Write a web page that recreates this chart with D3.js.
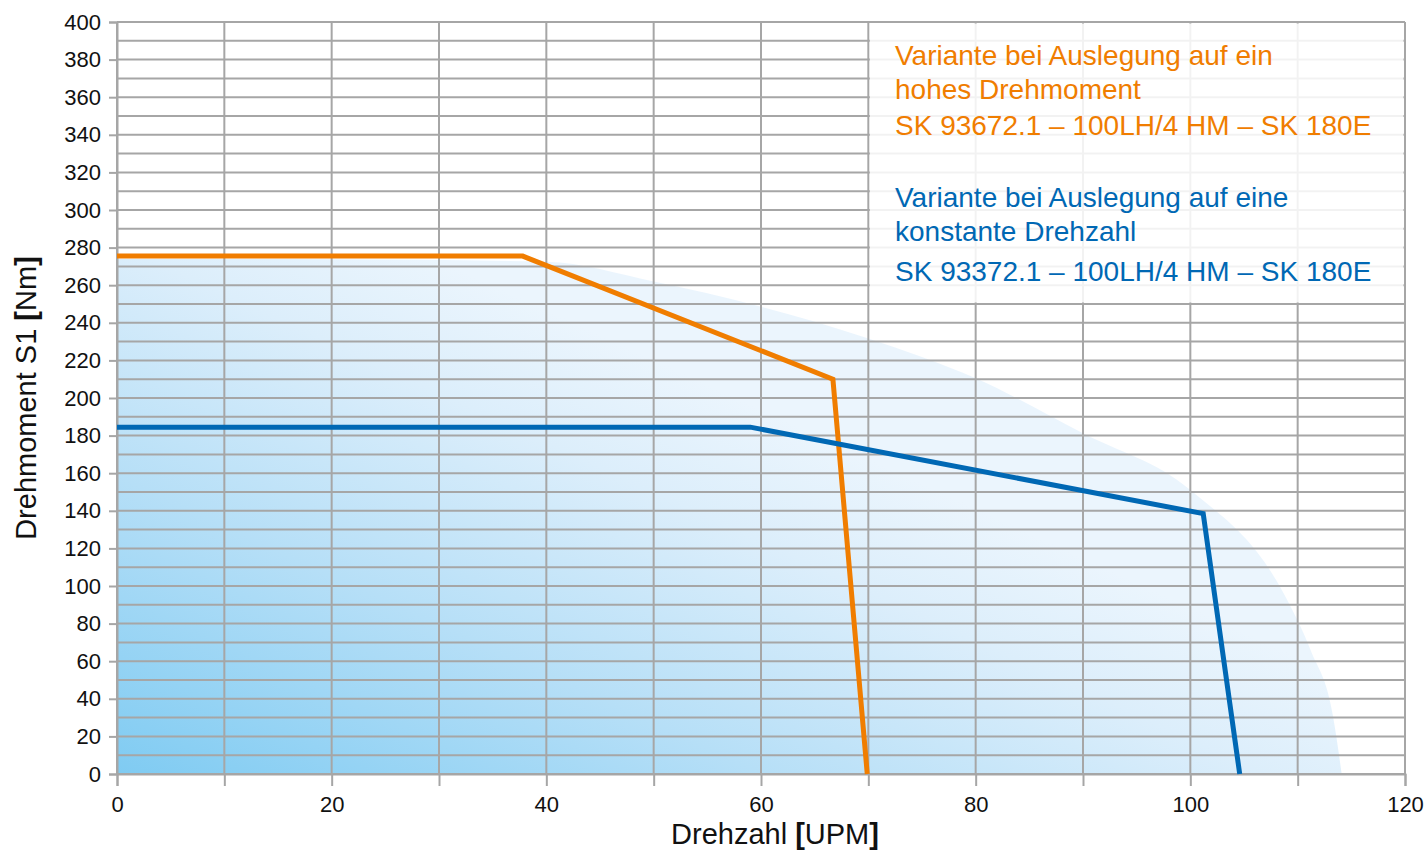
<!DOCTYPE html>
<html><head><meta charset="utf-8">
<script src="https://cdn.jsdelivr.net/npm/d3@7"></script>
<style>
html,body{margin:0;padding:0;background:#fff;}
svg{display:block;font-family:"Liberation Sans",Arial,sans-serif;}
</style></head>
<body>
<svg id="chart" width="1424" height="850"></svg>
<script>
// ---- data ----
const xTicks = [0,20,40,60,80,100,120];
const yTicks = [0,20,40,60,80,100,120,140,160,180,200,220,240,260,280,300,320,340,360,380,400];
const xGrid = d3.range(0,121,10);
const yGrid = d3.range(0,401,10);
// orange: high torque variant
const orangeRpm = [0, 37.8, 66.7, 69.9];
const orangeNm  = [275.5, 275.5, 210, 0];
// blue: constant speed variant
const blueRpm = [0, 59.0, 101.2, 104.6];
const blueNm  = [184.5, 184.5, 138.5, 0];
// background operating envelope boundary
const envRpm = [0, 20, 40, 50, 60, 70, 80, 90, 100, 108.7, 111.2, 113.3, 114.1];
const envNm  = [274, 273.8, 272.5, 262, 248.6, 231.7, 210.5, 181.2, 151, 96, 66, 30.5, 0];
const legendOrange = ["Variante bei Auslegung auf ein","hohes Drehmoment","SK 93672.1 – 100LH/4 HM – SK 180E"];
const legendBlue = ["Variante bei Auslegung auf eine","konstante Drehzahl","SK 93372.1 – 100LH/4 HM – SK 180E"];
const xTitle = ["Drehzahl ","[","UPM","]"];
const yTitle = ["Drehmoment S1 ","[","Nm","]"];

const ORANGE = "#f07d00", BLUE = "#0068b4", GRID = "#a6a6a6";

const svg = d3.select("#chart");
const x = d3.scaleLinear().domain([0,120]).range([117,1405]);
const y = d3.scaleLinear().domain([0,400]).range([774,22]);

// gradient
const defs = svg.append("defs");
const gx0 = x(0), gy0 = y(0), L = 600;
const g = defs.append("linearGradient").attr("id","envGrad")
  .attr("gradientUnits","userSpaceOnUse")
  .attr("x1",gx0).attr("y1",gy0).attr("x2",gx0 + 0.42*L).attr("y2",gy0 - 0.91*L);
g.append("stop").attr("offset",0).attr("stop-color","#7fcbf2");
g.append("stop").attr("offset",0.45).attr("stop-color","#b6dff7");
g.append("stop").attr("offset",0.8).attr("stop-color","#dceefb");
g.append("stop").attr("offset",1).attr("stop-color","#ebf5fd");

const envPts = envRpm.map((r,i)=>[r, envNm[i]]);
const area = d3.area().x(d=>x(d[0])).y0(y(0)).y1(d=>y(d[1])).curve(d3.curveMonotoneX);
svg.append("path").datum(envPts).attr("d",area).attr("fill","url(#envGrad)");

// grid
svg.append("g").selectAll("line").data(yGrid).join("line")
  .attr("x1",x(0)).attr("x2",x(120)).attr("y1",d=>y(d)).attr("y2",d=>y(d))
  .attr("stroke",GRID).attr("stroke-width",2);
svg.append("g").selectAll("line").data(xGrid).join("line")
  .attr("x1",d=>x(d)).attr("x2",d=>x(d)).attr("y1",y(0)).attr("y2",y(400))
  .attr("stroke",GRID).attr("stroke-width",2);

// legend box (semi-transparent white over grid)
svg.append("rect").attr("x",x(70)+1.5).attr("y",y(400)+1.5)
  .attr("width",x(120)-x(70)-3).attr("height",y(250)-y(400)-3)
  .attr("fill","#fff").attr("fill-opacity",0.86);

// axes
const yAxis = d3.axisLeft(y).tickValues(yTicks).tickSize(8).tickPadding(8);
const ya = svg.append("g").attr("transform",`translate(${x(0)},0)`).call(yAxis);
ya.select(".domain").attr("stroke",GRID).attr("stroke-width",2);
ya.selectAll(".tick line").attr("stroke",GRID).attr("stroke-width",2);
ya.selectAll(".tick text").attr("font-size",22).attr("fill","#111").attr("font-family","Liberation Sans, Arial, sans-serif");

const xAxis = d3.axisBottom(x).tickValues(xGrid).tickSize(12).tickPadding(10)
  .tickFormat(d=> xTicks.includes(d) ? d : "");
const xa = svg.append("g").attr("transform",`translate(0,${y(0)})`).call(xAxis);
xa.select(".domain").attr("stroke",GRID).attr("stroke-width",2);
xa.selectAll(".tick line").attr("stroke",GRID).attr("stroke-width",2);
xa.selectAll(".tick text").attr("font-size",22).attr("fill","#111").attr("font-family","Liberation Sans, Arial, sans-serif");

// lines
const line = d3.line().x(d=>x(d[0])).y(d=>y(d[1]));
svg.append("path").datum(orangeRpm.map((r,i)=>[r,orangeNm[i]])).attr("d",line)
  .attr("fill","none").attr("stroke",ORANGE).attr("stroke-width",5).attr("stroke-linejoin","miter");
svg.append("path").datum(blueRpm.map((r,i)=>[r,blueNm[i]])).attr("d",line)
  .attr("fill","none").attr("stroke",BLUE).attr("stroke-width",5).attr("stroke-linejoin","miter");

// legend text
const lgX = 895;
const orangeY = [65, 99, 135], blueY = [207, 241, 281];
svg.append("g").selectAll("text").data(legendOrange).join("text")
  .attr("x",lgX).attr("y",(d,i)=>orangeY[i]).attr("fill",ORANGE).attr("font-size",28).text(d=>d);
svg.append("g").selectAll("text").data(legendBlue).join("text")
  .attr("x",lgX).attr("y",(d,i)=>blueY[i]).attr("fill",BLUE).attr("font-size",28).text(d=>d);

// axis titles
function title(parts, sel){
  parts.forEach((p,i)=>{
    sel.append("tspan").attr("font-weight", (p==="["||p==="]")?"bold":"normal").text(p);
  });
}
const xt = svg.append("text").attr("x",775).attr("y",844).attr("text-anchor","middle")
  .attr("font-size",29).attr("fill","#111");
title(xTitle, xt);
const yt = svg.append("text").attr("transform","translate(36,398) rotate(-90)").attr("text-anchor","middle")
  .attr("font-size",29).attr("fill","#111");
title(yTitle, yt);
</script>
</body></html>
